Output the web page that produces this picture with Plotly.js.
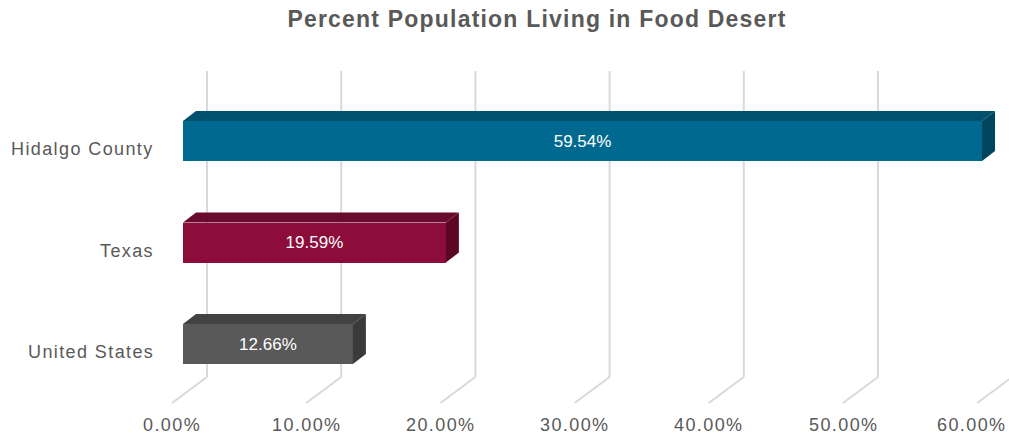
<!DOCTYPE html>
<html>
<head>
<meta charset="utf-8">
<script src="https://cdn.plot.ly/plotly-3.0.1.min.js"></script>
<style>
  html, body { margin: 0; padding: 0; background: #ffffff; }
  #chart { width: 1009px; height: 439px; }
  .annotation-text { letter-spacing: 1.4px; }
  .gtitle { letter-spacing: 1.2px; }
</style>
</head>
<body>
<div id="chart"></div>
<script>
// ---- data ----
const categories = ["United States", "Texas", "Hidalgo County"];
const values = [12.66, 19.59, 59.54];
const tickValues = [0, 10, 20, 30, 40, 50, 60];
const tickLabels = ["0.00%", "10.00%", "20.00%", "30.00%", "40.00%", "50.00%", "60.00%"];
const titleText = "Percent Population Living in Food Desert";

// ---- styling ----
const frontColors = ["#595959", "#8c0c3a", "#00698f"];
const topColors   = ["#424242", "#6a0a2c", "#00516e"];
const sideColors  = ["#3a3a3a", "#5c0626", "#00445d"];
const textGrey = "#595959";
const gridColor = "#d9d9d9";

// ---- geometry (pixel layout mapped into axis units) ----
const W = 1009, H = 439;
const X0PX = 183, PXPERUNIT = 13.42;       // 0% at front plane
const Y0PX = 344, PXPERCAT = 101.5;         // category 0 centre
const xr = [-X0PX / PXPERUNIT, (W - X0PX) / PXPERUNIT];
const yr = [(Y0PX - H) / PXPERCAT, Y0PX / PXPERCAT];
const dxU = px => px / PXPERUNIT;          // pixel offset -> x units
const dyU = px => px / PXPERCAT;           // pixel offset -> y units
const pyToY = py => (Y0PX - py) / PXPERCAT;
const pxToX = px => (px - X0PX) / PXPERUNIT;

const halfH = dyU(20);       // half bar thickness
const depthX = dxU(13), depthY = dyU(10);
const ys = categories.map((c, i) => i);

const traces = [];
// front faces
traces.push({
  type: "bar", orientation: "h",
  x: values, y: ys, width: 2 * halfH,
  marker: { color: frontColors, line: { width: 0 } },
  texttemplate: "%{x:.2f}%", textposition: "inside", insidetextanchor: "middle",
  textfont: { family: "Liberation Sans, Arial, sans-serif", size: 17, color: "#ffffff" },
  constraintext: "none",
  hoverinfo: "skip", showlegend: false
});
// top and side faces
values.forEach((v, i) => {
  const yc = ys[i];
  traces.push({
    type: "scatter", mode: "lines", fill: "toself",
    x: [0, v, v + depthX, depthX, 0],
    y: [yc + halfH, yc + halfH, yc + halfH + depthY, yc + halfH + depthY, yc + halfH],
    fillcolor: topColors[i], line: { width: 0 }, hoverinfo: "skip", showlegend: false
  });
  traces.push({
    type: "scatter", mode: "lines", fill: "toself",
    x: [v, v, v + depthX, v + depthX, v],
    y: [yc - halfH, yc + halfH, yc + halfH + depthY, yc - halfH + depthY, yc - halfH],
    fillcolor: sideColors[i], line: { width: 0 }, hoverinfo: "skip", showlegend: false
  });
});

// gridlines (3D wall + floor)
const shapes = [];
const gTop = pyToY(71), gBot = pyToY(377), gFloor = pyToY(403);
tickValues.forEach(t => {
  const xb = t + dxU(24), xf = t - dxU(11);
  shapes.push({ type: "line", layer: "below", xref: "x", yref: "y",
    x0: xb, x1: xb, y0: gTop, y1: gBot, line: { color: gridColor, width: 2 } });
  shapes.push({ type: "line", layer: "below", xref: "x", yref: "y",
    x0: xb, x1: xf, y0: gBot, y1: gFloor, line: { color: gridColor, width: 2 } });
});

// labels
const annotations = [];
tickValues.forEach((t, i) => {
  let x = t - dxU(11), anchor = "center";
  // keep the last label inside the picture's right edge
  if (pxToX(W) - x < dxU(36)) { x = pxToX(W - 1); anchor = "right"; }
  annotations.push({ xref: "x", yref: "y", x: x, y: pyToY(425),
    text: tickLabels[i], showarrow: false, xanchor: anchor, yanchor: "middle",
    font: { family: "Liberation Sans, Arial, sans-serif", size: 18, color: textGrey } });
});
categories.forEach((c, i) => {
  annotations.push({ xref: "x", yref: "y", x: pxToX(156), y: ys[i] - dyU(8),
    text: c, showarrow: false, xanchor: "right", yanchor: "middle",
    font: { family: "Liberation Sans, Arial, sans-serif", size: 18, color: textGrey } });
});

const layout = {
  width: W, height: H,
  margin: { l: 0, r: 0, t: 0, b: 0, pad: 0 },
  paper_bgcolor: "#ffffff", plot_bgcolor: "#ffffff",
  title: {
    text: "<b>" + titleText + "</b>",
    font: { family: "Liberation Sans, Arial, sans-serif", size: 23, color: textGrey },
    x: 537 / W, xanchor: "center", xref: "paper",
    y: 1 - 19 / H, yanchor: "middle", yref: "container"
  },
  xaxis: { range: xr, visible: false, fixedrange: true },
  yaxis: { range: yr, visible: false, fixedrange: true },
  shapes: shapes,
  annotations: annotations,
  showlegend: false,
  bargap: 0
};

Plotly.newPlot("chart", traces, layout, { displayModeBar: false, staticPlot: true });
</script>
</body>
</html>
